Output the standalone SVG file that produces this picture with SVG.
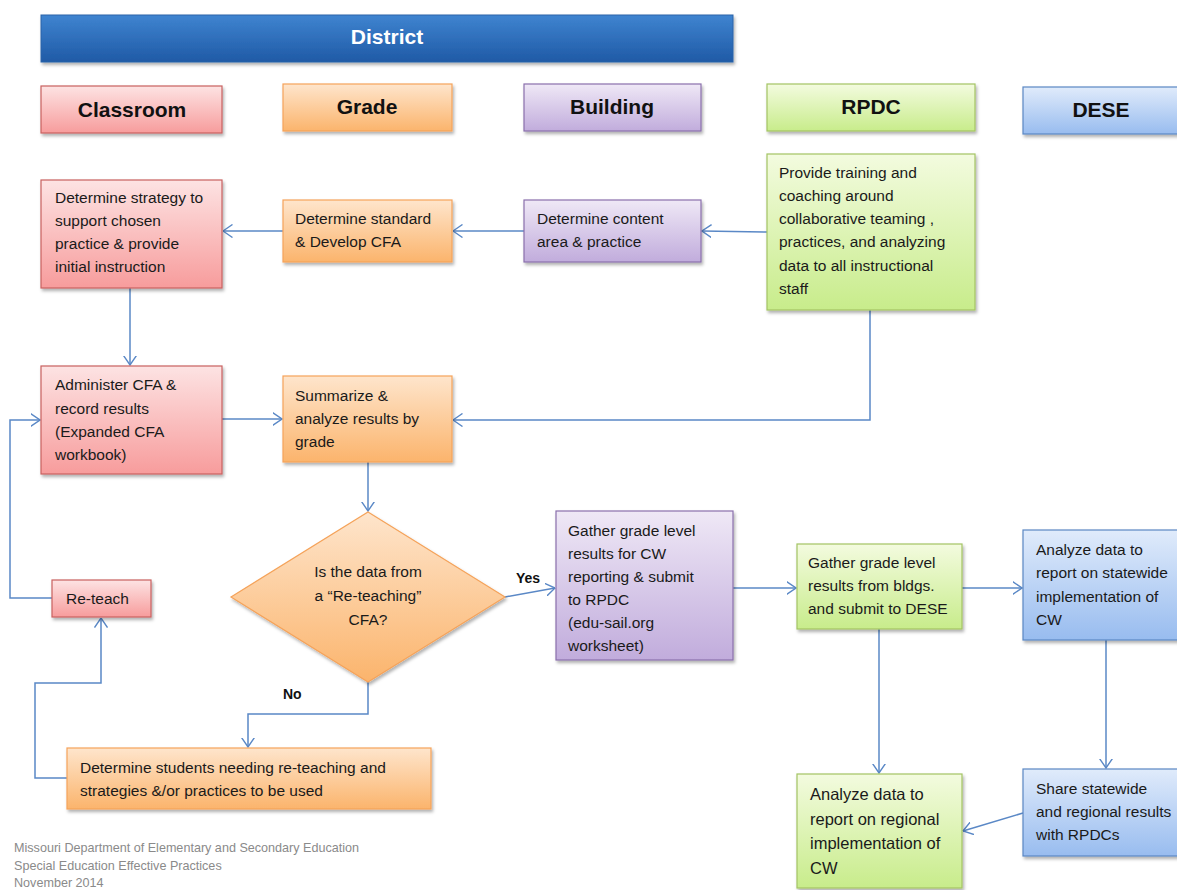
<svg xmlns="http://www.w3.org/2000/svg" width="1177" height="890" viewBox="0 0 1177 890">
<defs>
<linearGradient id="gBlueBar" x1="0" y1="0" x2="0" y2="1"><stop offset="0" stop-color="#3f84d0"/><stop offset="1" stop-color="#1f5aa6"/></linearGradient>
<linearGradient id="gPink" x1="0" y1="0" x2="0" y2="1"><stop offset="0" stop-color="#fde3e3"/><stop offset="1" stop-color="#f79c9c"/></linearGradient>
<linearGradient id="gOrange" x1="0" y1="0" x2="0" y2="1"><stop offset="0" stop-color="#fee5cc"/><stop offset="1" stop-color="#fbb46c"/></linearGradient>
<linearGradient id="gPurple" x1="0" y1="0" x2="0" y2="1"><stop offset="0" stop-color="#efe8f6"/><stop offset="1" stop-color="#c1acdc"/></linearGradient>
<linearGradient id="gGreen" x1="0" y1="0" x2="0" y2="1"><stop offset="0" stop-color="#f3fbdf"/><stop offset="1" stop-color="#c8ec8b"/></linearGradient>
<linearGradient id="gBlue" x1="0" y1="0" x2="0" y2="1"><stop offset="0" stop-color="#e0ebfb"/><stop offset="1" stop-color="#98bcef"/></linearGradient>
<filter id="sh" x="-10%" y="-10%" width="125%" height="130%"><feDropShadow dx="1.5" dy="2.5" stdDeviation="1.8" flood-color="#000" flood-opacity="0.3"/></filter>
<marker id="arr" viewBox="0 0 10 14" refX="9.5" refY="7" markerWidth="10" markerHeight="14" markerUnits="userSpaceOnUse" orient="auto"><path d="M0,0.5 L9.5,7 L0,13.5" fill="none" stroke="#5a88c6" stroke-width="1.4"/></marker>
</defs>
<style>
.pink{fill:url(#gPink);stroke:#c9615f;stroke-width:1.2;filter:url(#sh)}
.orange{fill:url(#gOrange);stroke:#f5a35a;stroke-width:1.2;filter:url(#sh)}
.purple{fill:url(#gPurple);stroke:#8a70ac;stroke-width:1.2;filter:url(#sh)}
.green{fill:url(#gGreen);stroke:#a3c463;stroke-width:1.2;filter:url(#sh)}
.blue{fill:url(#gBlue);stroke:#5a87c4;stroke-width:1.2;filter:url(#sh)}
.hdr{font-family:"Liberation Sans",Arial,sans-serif;font-weight:bold;font-size:21px;fill:#111;text-anchor:middle}
.t{font-family:"Liberation Sans",Arial,sans-serif;font-size:15.5px;fill:#1a1a1a}
.lbl{font-family:"Liberation Sans",Arial,sans-serif;font-weight:bold;font-size:14px;fill:#111}
.foot{font-family:"Liberation Sans",Arial,sans-serif;font-size:12.6px;fill:#8a8a8a}
.c{fill:none;stroke:#5a88c6;stroke-width:1.5;marker-end:url(#arr)}
</style>
<rect width="1177" height="890" fill="#ffffff"/>

<g id="district"><rect x="41" y="15" width="692" height="47" fill="url(#gBlueBar)" stroke="#2a62a8" stroke-width="1" filter="url(#sh)"/><text x="387" y="44" class="hdr" style="fill:#fff">District</text></g>
<g id="h-classroom"><rect x="41" y="86" width="181" height="47" class="pink"/><text x="132" y="117" class="hdr">Classroom</text></g>
<g id="h-grade"><rect x="283" y="84" width="169" height="47" class="orange"/><text x="367" y="114" class="hdr">Grade</text></g>
<g id="h-building"><rect x="524" y="84" width="177" height="47" class="purple"/><text x="612" y="114" class="hdr">Building</text></g>
<g id="h-rpdc"><rect x="767" y="84" width="208" height="47" class="green"/><text x="871" y="114" class="hdr">RPDC</text></g>
<g id="h-dese"><rect x="1023" y="87" width="160" height="47" class="blue"/><text x="1101" y="117" class="hdr">DESE</text></g>

<g id="connectors">
<path class="c" d="M767,232 L702,231"/>
<path class="c" d="M524,231 L453,231"/>
<path class="c" d="M283,231 L223,231"/>
<path class="c" d="M130,288 L130,365"/>
<path class="c" d="M222,419 L282,419"/>
<path class="c" d="M870,310 L870,420 L453,420"/>
<path class="c" d="M368,462 L368,511"/>
<path class="c" d="M505,597 L555,588"/>
<path class="c" d="M368,682 L368,714 L248,714 L248,747"/>
<path class="c" d="M67,778 L35,778 L35,683 L101,683 L101,618"/>
<path class="c" d="M52,598 L10,598 L10,420 L40,420"/>
<path class="c" d="M733,588 L796,588"/>
<path class="c" d="M962,588 L1022,588"/>
<path class="c" d="M879,629 L879,773"/>
<path class="c" d="M1106,640 L1106,768"/>
<path class="c" d="M1023,813 L963,831"/>
</g>

<g id="n-strategy"><rect x="41" y="180" width="181" height="108" class="pink"/>
<text class="t"><tspan x="55" y="203">Determine  strategy to</tspan><tspan x="55" y="226">support chosen</tspan><tspan x="55" y="249">practice &amp; provide</tspan><tspan x="55" y="272">initial instruction</tspan></text></g>

<g id="n-standard"><rect x="283" y="200" width="169" height="62" class="orange"/>
<text class="t"><tspan x="295" y="224">Determine  standard</tspan><tspan x="295" y="247">&amp; Develop CFA</tspan></text></g>

<g id="n-content"><rect x="524" y="200" width="177" height="62" class="purple"/>
<text class="t"><tspan x="537" y="224">Determine  content</tspan><tspan x="537" y="247">area &amp; practice</tspan></text></g>

<g id="n-training"><rect x="767" y="154" width="208" height="156" class="green"/>
<text class="t"><tspan x="779" y="178">Provide training and</tspan><tspan x="779" y="201">coaching around</tspan><tspan x="779" y="224">collaborative teaming ,</tspan><tspan x="779" y="247">practices, and analyzing</tspan><tspan x="779" y="271">data to  all instructional</tspan><tspan x="779" y="294">staff</tspan></text></g>

<g id="n-administer"><rect x="41" y="366" width="181" height="108" class="pink"/>
<text class="t"><tspan x="55" y="390">Administer CFA &amp;</tspan><tspan x="55" y="414">record results</tspan><tspan x="55" y="437">(Expanded CFA</tspan><tspan x="55" y="460">workbook)</tspan></text></g>

<g id="n-summarize"><rect x="283" y="376" width="169" height="86" class="orange"/>
<text class="t"><tspan x="295" y="401">Summarize &amp;</tspan><tspan x="295" y="424">analyze results by</tspan><tspan x="295" y="447">grade</tspan></text></g>

<g id="n-decision"><polygon points="368,512 505,597 368,682 231,597" fill="url(#gOrange)" stroke="#f5a35a" stroke-width="1.2" filter="url(#sh)"/>
<text class="t" text-anchor="middle"><tspan x="368" y="577">Is the data from</tspan><tspan x="368" y="601">a “Re-teaching”</tspan><tspan x="368" y="625">CFA?</tspan></text></g>

<g id="n-reteach"><rect x="52" y="580" width="99" height="37" class="pink"/>
<text class="t" x="66" y="604">Re-teach</text></g>

<g id="n-gather-bldg"><rect x="556" y="511" width="177" height="149" class="purple"/>
<text class="t"><tspan x="568" y="536">Gather grade level</tspan><tspan x="568" y="559">results for CW</tspan><tspan x="568" y="582">reporting &amp; submit</tspan><tspan x="568" y="605">to RPDC</tspan><tspan x="568" y="628">(edu-sail.org</tspan><tspan x="568" y="651">worksheet)</tspan></text></g>

<g id="n-gather-rpdc"><rect x="797" y="544" width="165" height="85" class="green"/>
<text class="t"><tspan x="808" y="568">Gather grade level</tspan><tspan x="808" y="591">results from bldgs.</tspan><tspan x="808" y="614">and submit to DESE</tspan></text></g>

<g id="n-analyze-state"><rect x="1023" y="530" width="160" height="110" class="blue"/>
<text class="t"><tspan x="1036" y="555">Analyze data to</tspan><tspan x="1036" y="578">report on statewide</tspan><tspan x="1036" y="602">implementation of</tspan><tspan x="1036" y="625">CW</tspan></text></g>

<g id="n-students"><rect x="67" y="748" width="364" height="61" class="orange"/>
<text class="t"><tspan x="80" y="773">Determine   students needing re-teaching  and</tspan><tspan x="80" y="796">strategies &amp;/or practices to be used</tspan></text></g>

<g id="n-analyze-region"><rect x="797" y="774" width="165" height="114" class="green"/>
<text class="t" style="font-size:16.5px"><tspan x="810" y="800">Analyze data to</tspan><tspan x="810" y="825">report on regional</tspan><tspan x="810" y="849">implementation of</tspan><tspan x="810" y="874">CW</tspan></text></g>

<g id="n-share"><rect x="1023" y="769" width="160" height="87" class="blue"/>
<text class="t"><tspan x="1036" y="794">Share statewide</tspan><tspan x="1036" y="817">and regional results</tspan><tspan x="1036" y="840">with RPDCs</tspan></text></g>

<g id="labels">
<text class="lbl" x="516" y="583">Yes</text>
<text class="lbl" x="283" y="699">No</text>
</g>

<g id="footer">
<text class="foot" x="14" y="852">Missouri Department of Elementary and Secondary Education</text>
<text class="foot" x="14" y="870">Special Education Effective Practices</text>
<text class="foot" x="14" y="887">November 2014</text>
</g>
</svg>
